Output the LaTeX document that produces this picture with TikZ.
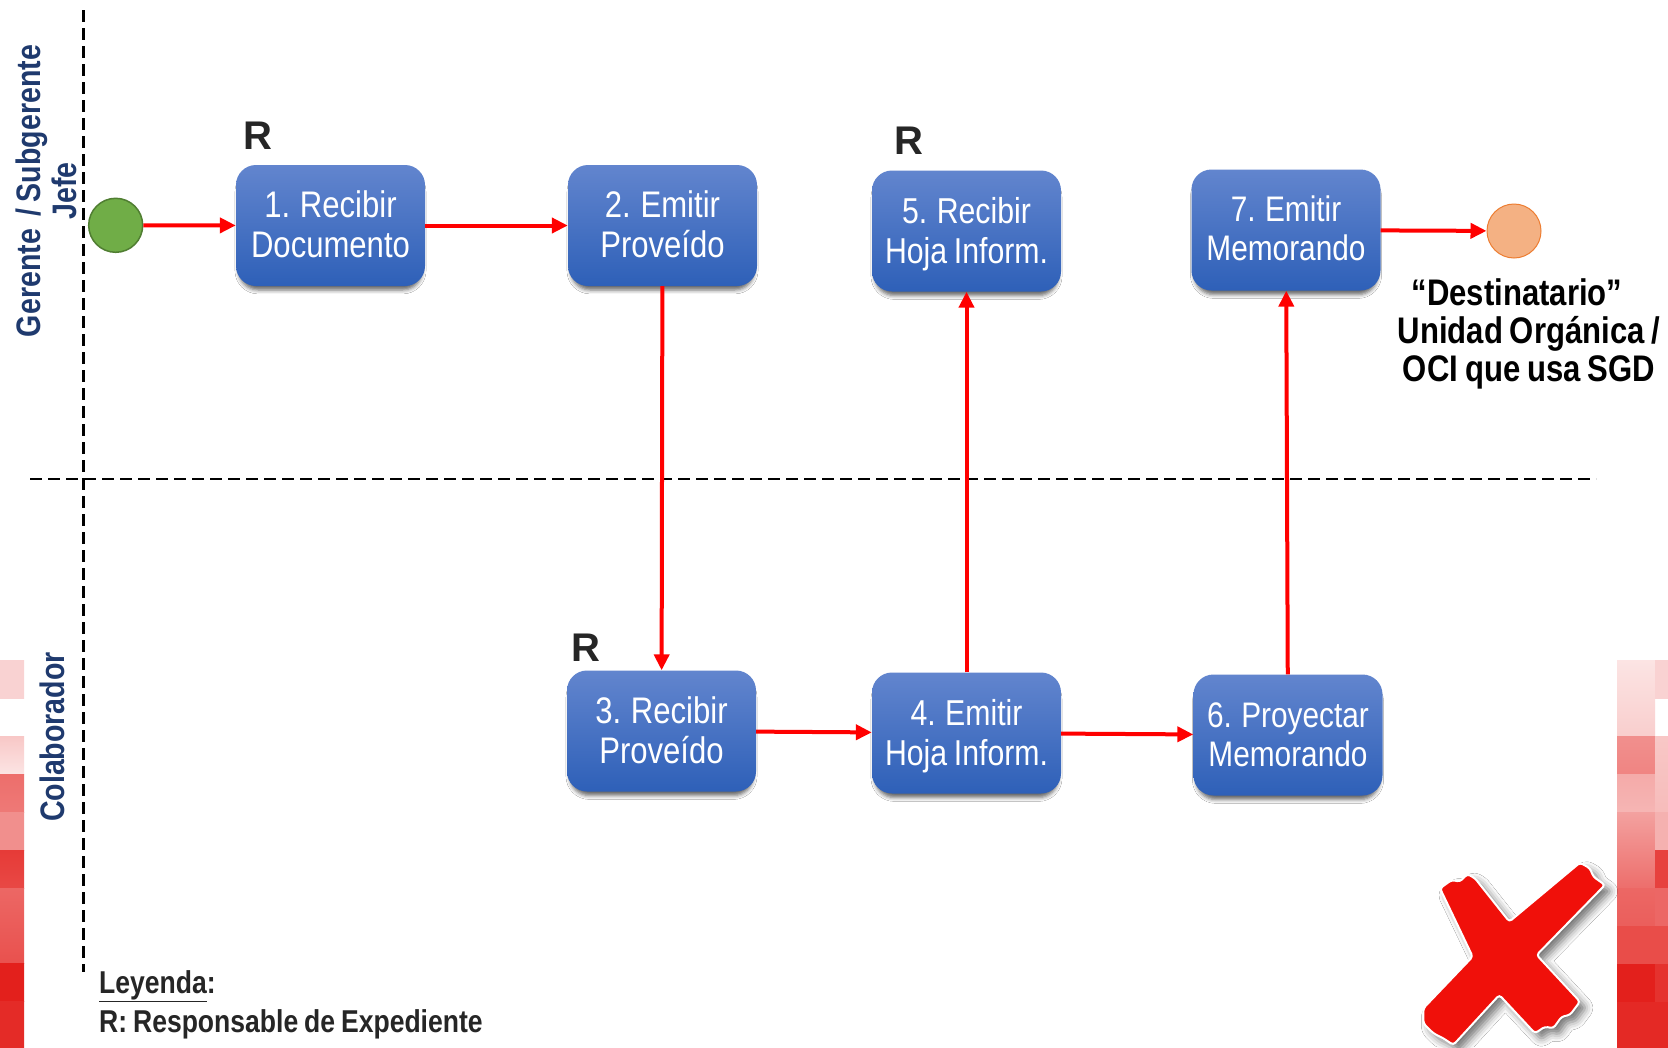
\documentclass[tikz,border=0pt]{standalone}
\usepackage{fontspec}
\setmainfont{Liberation Sans}
\newfontfamily\narrowfont[FakeStretch=0.84,WordSpace=0.55]{Liberation Sans}
\newfontfamily\narrowbold[FakeStretch=0.84,WordSpace=0.8]{Liberation Sans}
\usetikzlibrary{arrows.meta,shadows.blur}
\definecolor{boxtop}{HTML}{6285CE}
\definecolor{boxbot}{HTML}{2E60B8}
\definecolor{lanecol}{HTML}{1F3A6E}
\definecolor{inkcol}{HTML}{262626}
\definecolor{pixred}{HTML}{E3201C}
\definecolor{startcol}{HTML}{70AD47}
\definecolor{startline}{HTML}{507E32}
\definecolor{stopcol}{HTML}{F4B183}
\definecolor{stopline}{HTML}{ED7D31}
\definecolor{crosscol}{HTML}{F0100A}
\newcommand{\steptext}[3]{\raisebox{#1}[\height][\depth]{#2}\\\raisebox{#1}[\height][\depth]{#3}}
\tikzset{
  procbox/.style={rectangle,rounded corners=20pt,minimum width=189pt,minimum height=121pt,
    inner sep=0pt,top color=boxtop,bottom color=boxbot,text=white,align=center,
    font=\narrowfont\fontsize{37}{40}\selectfont,
    blur shadow={shadow xshift=0pt,shadow yshift=-6pt,shadow scale=0.97,shadow blur radius=4pt,shadow opacity=60}},
  procmid/.style={procbox,font=\narrowfont\fontsize{36}{40}\selectfont},
  procsmall/.style={procbox,font=\narrowfont\fontsize{35.5}{39}\selectfont},
  flow/.style={red,line width=4pt,-{Triangle[length=16pt,width=15pt]}},
  lane/.style={black,line width=2.8pt,dash pattern=on 12pt off 6pt},
  lanetext/.style={rotate=90,text=lanecol,align=center,font=\narrowbold\bfseries\fontsize{34}{36}\selectfont},
  respmark/.style={anchor=base west,inner sep=0pt,text=inkcol,font=\bfseries\fontsize{40}{40}\selectfont},
}
\begin{document}
\begin{tikzpicture}[x=1pt,y=-1pt]
\clip (0,0) rectangle (1668,1047);
\fill[white] (0,0) rectangle (1668,1047);
% pixel strips
\foreach \xa/\xb/\ya/\yb/\mt/\mb in {
0/24/660/698/20/20,0/24/736/774/25/12,0/24/774/812/65/60,0/24/812/850/50/50,0/24/850/888/88/82,
0/24/888/963/68/78,0/24/963/1001/100/100,0/24/1001/1047/95/95,
1617/1655/660/736/12/22,1617/1655/736/774/50/55,1617/1655/774/812/38/33,1617/1655/812/888/42/65,
1617/1655/888/926/68/72,1617/1655/926/964/80/80,1617/1655/964/1002/100/100,1617/1655/1002/1047/96/96,
1655/1668/660/698/20/20,1655/1668/736/812/25/30,1655/1668/812/850/35/35,1655/1668/850/888/85/85,
1655/1668/888/926/68/68,1655/1668/926/964/80/80,1655/1668/964/1002/92/92,1655/1668/1002/1047/96/96}{
\shade[top color=pixred!\mt,bottom color=pixred!\mb] (\xa,\ya) rectangle (\xb,\yb);
}
% lanes
\draw[lane] (83.5,10) -- (83.5,972);
\draw[lane] (30,479) -- (1596,479);
\node[lanetext] (lanea) at (46,191) {Gerente \ / Subgerente\\Jefe};
\node[lanetext] (laneb) at (52.5,737) {Colaborador};
% steps
\node[circle,minimum size=54pt,inner sep=0pt,fill=startcol,draw=startline,line width=1.5pt] (start) at (115.7,225.3) {};
\node[procbox] (p1) at (330.5,225.5) {\steptext{1pt}{1. Recibir}{Documento}};
\node[procbox] (p2) at (662.5,225.5) {\steptext{1pt}{2. Emitir}{Proveído}};
\node[procbox] (p3) at (661.5,731) {\steptext{1pt}{3. Recibir}{Proveído}};
\node[procmid] (p4) at (966.5,733) {\steptext{-3pt}{4. Emitir}{Hoja Inform.}};
\node[procmid] (p5) at (966.5,231) {\steptext{-3pt}{5. Recibir}{Hoja Inform.}};
\node[procsmall] (p6) at (1288,735) {\steptext{0pt}{6. Proyectar}{Memorando}};
\node[procsmall] (p7) at (1286,230) {\steptext{2pt}{7. Emitir}{Memorando}};
\node[circle,minimum size=54pt,inner sep=0pt,fill=stopcol,draw=stopline,line width=1pt] (stop) at (1514,231) {};
% flows
\draw[flow] (start) -- (p1);
\draw[flow] (p1) -- (p2);
\draw[flow] (p2) -- (p3);
\draw[flow] (p3) -- (p4);
\draw[flow] (p4) -- (p5);
\draw[flow] (p4) -- (p6);
\draw[flow] (p6) -- (p7);
\draw[flow] (p7) -- (stop);
% marks
\node[respmark] (r1) at (243,149) {R};
\node[respmark] (r3) at (571,661) {R};
\node[respmark] (r5) at (894,154) {R};
\node[anchor=base,align=center,inner sep=0pt,text=black,font=\narrowbold\bfseries\fontsize{37}{38}\selectfont] (dest) at (1529,381) {“Destinatario”\hspace*{24pt}\\Unidad Orgánica /\\OCI que usa SGD};
\node[anchor=base west,align=left,inner sep=0pt,text=inkcol,font=\narrowbold\bfseries\fontsize{31.6}{39}\selectfont] (legend) at (99,1032) {\underline{Leyenda}:\\R: Responsable de Expediente};
% cross
\begin{scope}[shift={(1380,640)},x=0.3333pt,y=-0.3333pt]
\path[fill=crosscol,draw=white,line width=2pt,rounded corners=3pt,
  blur shadow={shadow xshift=6pt,shadow yshift=-6pt,shadow blur radius=8pt,shadow opacity=55}]
  (180,745) -- (215,720) -- (240,725) -- (262,702) -- (285,715) -- (388,845)
  -- (600,668) -- (630,685) -- (640,710) -- (675,735) -- (470,945)
  -- (600,1085) -- (570,1125) -- (545,1130) -- (520,1165) -- (495,1160) -- (465,1180) -- (358,1065)
  -- (220,1215) -- (190,1195) -- (160,1180) -- (130,1150) -- (130,1105) -- (278,950) -- cycle;
\end{scope}
\end{tikzpicture}
\end{document}
